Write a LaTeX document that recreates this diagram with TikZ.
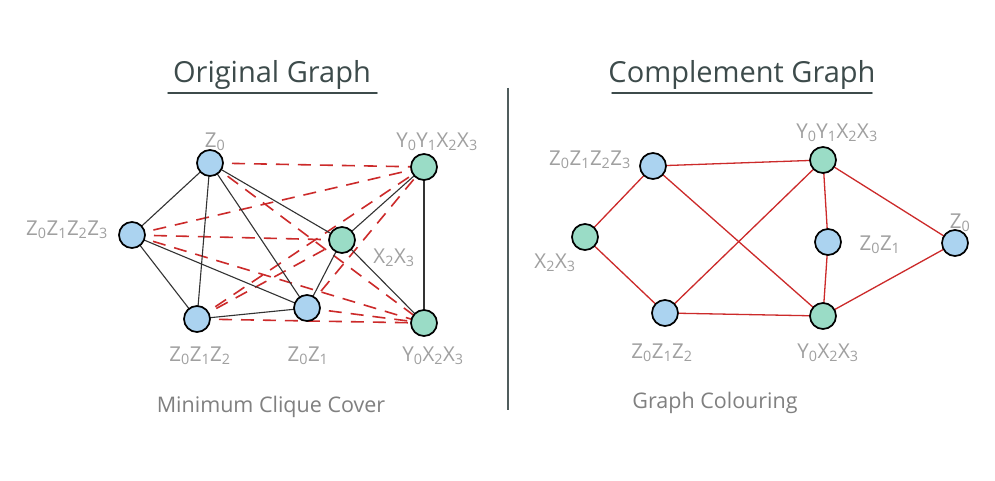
\documentclass[tikz,border=0pt]{standalone}
\usepackage{fontspec}
\setmainfont{Open Sans}
\newcommand\su[1]{\textsubscript{#1}}
\definecolor{nblue}{HTML}{ABD3F0}
\definecolor{ngreen}{HTML}{9ADCC6}
\definecolor{lgray}{HTML}{A0A0A0}
\definecolor{tgray}{HTML}{3D4B4B}
\definecolor{ered}{HTML}{CC2A2A}
\definecolor{eblack}{HTML}{333333}
\tikzset{
  vb/.style={circle,draw=black,line width=1.7pt,fill=nblue,minimum size=26pt,inner sep=0pt},
  vg/.style={circle,draw=black,line width=1.7pt,fill=ngreen,minimum size=26pt,inner sep=0pt},
  lab/.style={text=lgray,font=\fontsize{20.5}{20.5}\selectfont,inner sep=0pt},
  ttl/.style={text=tgray,font=\fontsize{29}{29}\selectfont,inner sep=0pt},
  captxt/.style={text=lgray!80!black,font=\fontsize{21.5}{21.5}\selectfont,inner sep=0pt},
  bl/.style={eblack,line width=1.1pt},
  rd/.style={ered,line width=1.6pt,dash pattern=on 13pt off 9pt},
  rs/.style={ered,line width=1.3pt}
}
\begin{document}
\begin{tikzpicture}[x=1pt,y=-1pt]
\useasboundingbox[fill=white] (0,0) rectangle (995,481);
% titles
\node[ttl] (t1) at (272,75) {Original Graph};
\node[ttl] (t2) at (742,75) {Complement Graph};
\coordinate (u1a) at (168,93); \coordinate (u1b) at (377,93);
\coordinate (u2a) at (612,93); \coordinate (u2b) at (872,93);
\draw[tgray,line width=1.5pt,line cap=round] (u1a) -- (u1b);
\draw[tgray,line width=1.5pt,line cap=round] (u2a) -- (u2b);
% divider
\coordinate (d1) at (508,88); \coordinate (d2) at (508,410);
\draw[tgray!90,line width=1.6pt] (d1) -- (d2);
% captions
\node[captxt] (c1) at (271,407) {Minimum Clique Cover};
\node[captxt] (c2) at (715,403) {Graph Colouring};

% ---------- left graph ----------
\coordinate (a) at (210,163);
\coordinate (b) at (132,235);
\coordinate (c) at (197,319);
\coordinate (d) at (307,308);
\coordinate (e) at (342,240);
\coordinate (f) at (424,167);
\coordinate (g) at (424,323);
% red dashed (complement) edges
\foreach \p/\q in {a/f,a/g,b/f,b/e,b/g,c/e,c/f,c/g,d/f,d/g}
  \draw[rd] (\p) -- (\q);
% black edges
\foreach \p/\q in {a/b,a/c,a/d,a/e,b/c,b/d,c/d,d/e,e/f,e/g,f/g}
  \draw[bl] (\p) -- (\q);
\node[vb] (na) at (a) {};
\node[vb] (nb) at (b) {};
\node[vb] (nc) at (c) {};
\node[vb] (nd) at (d) {};
\node[vg] (ne) at (e) {};
\node[vg] (nf) at (f) {};
\node[vg] (ng) at (g) {};
% labels
\node[lab] (la) at (215,142) {Z\su{0}};
\node[lab] (lb) at (67,230) {Z\su{0}Z\su{1}Z\su{2}Z\su{3}};
\node[lab] (lc) at (200,356) {Z\su{0}Z\su{1}Z\su{2}};
\node[lab] (ld) at (308,356) {Z\su{0}Z\su{1}};
\node[lab] (le) at (394,258) {X\su{2}X\su{3}};
\node[lab] (lf) at (437,142) {Y\su{0}Y\su{1}X\su{2}X\su{3}};
\node[lab] (lg) at (433,356) {Y\su{0}X\su{2}X\su{3}};

% ---------- right graph ----------
\coordinate (pb) at (653,166);
\coordinate (pe) at (585,237);
\coordinate (pc) at (665,313);
\coordinate (pf) at (823,160);
\coordinate (pd) at (828,242);
\coordinate (pg) at (823,316);
\coordinate (pa) at (955,243);
\foreach \p/\q in {pb/pf,pb/pe,pb/pg,pe/pc,pc/pf,pc/pg,pf/pd,pf/pa,pd/pg,pg/pa}
  \draw[rs] (\p) -- (\q);
\node[vb] (rb) at (pb) {};
\node[vg] (re) at (pe) {};
\node[vb] (rc) at (pc) {};
\node[vg] (rf) at (pf) {};
\node[vb] (rd) at (pd) {};
\node[vg] (rg) at (pg) {};
\node[vb] (ra) at (pa) {};
\node[lab] (lrb) at (590,160) {Z\su{0}Z\su{1}Z\su{2}Z\su{3}};
\node[lab] (lre) at (555,263) {X\su{2}X\su{3}};
\node[lab] (lrc) at (662,353) {Z\su{0}Z\su{1}Z\su{2}};
\node[lab] (lrf) at (837,133) {Y\su{0}Y\su{1}X\su{2}X\su{3}};
\node[lab] (lrd) at (880,245) {Z\su{0}Z\su{1}};
\node[lab] (lrg) at (828,353) {Y\su{0}X\su{2}X\su{3}};
\node[lab] (lra) at (960,223) {Z\su{0}};
\end{tikzpicture}
\end{document}
